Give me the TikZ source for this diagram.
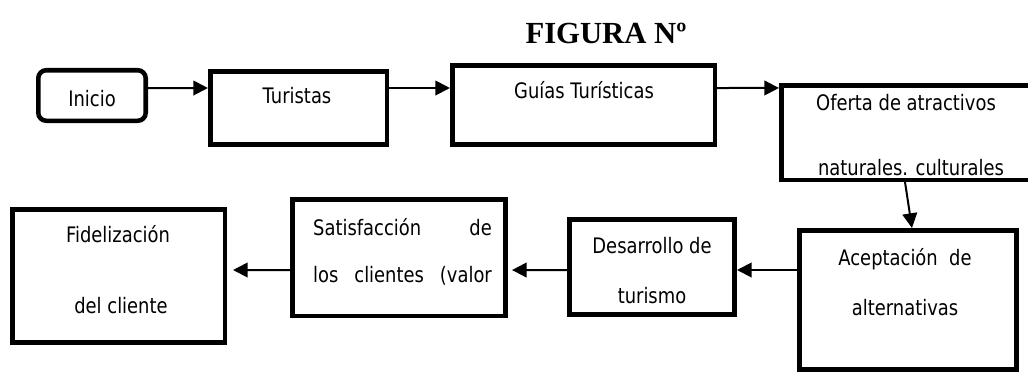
\documentclass[tikz,border=0pt]{standalone}
\usepackage{fontspec}
\setmainfont{DejaVu Sans}[FakeStretch=0.84]
\newfontfamily\titlefont{Liberation Serif}
\usepackage{tikz}
\usetikzlibrary{arrows.meta}

\tikzset{
 caja/.style={draw=black, line width=3.4pt, inner sep=0pt},
 flecha/.style={line width=1.5pt, -{Triangle[length=11pt,width=11pt]}},
 txt/.style={anchor=base, inner sep=0pt, font=\fontsize{16}{19}\selectfont},
}

\begin{document}
\begin{tikzpicture}[x=0.75pt,y=-0.75pt]

 \useasboundingbox (0,0) rectangle (1028,376);

 \node[anchor=base, inner sep=0pt, font=\titlefont\bfseries\fontsize{23}{27}\selectfont] (titulo) at (606,43) {FIGURA Nº};

 % fila de arriba
 \node[caja, rounded corners=6pt, minimum width=80.6pt, minimum height=37.9pt] (inicio) at (92,95.5) {};
 \node[txt] (t-inicio) at (92,106) {Inicio};

 \node[caja, minimum width=132.4pt, minimum height=55.1pt] (turistas) at (298.5,108) {};
 \node[txt] (t-turistas) at (297,103) {Turistas};

 \node[caja, minimum width=196.9pt, minimum height=59.6pt] (guias) at (583.5,105) {};
 \node[txt] (t-guias) at (584,98) {Guías Turísticas};

 \node[caja, minimum width=194pt, minimum height=70.9pt] (oferta) at (910.6,132.5) {};
 \node[txt] (t-oferta1) at (906,110) {Oferta de atractivos};
 \node[txt] (t-oferta2) at (911,175) {naturales. culturales};

 % fila de abajo
 \node[caja, minimum width=163.1pt, minimum height=104.6pt] (aceptacion) at (908,300) {};
 \node[txt] (t-acept1) at (905,265) {Aceptación\ \ de};
 \node[txt] (t-acept2) at (905,315) {alternativas};

 \node[caja, minimum width=124.1pt, minimum height=71.6pt] (desarrollo) at (652,267) {};
 \node[txt] (t-desa1) at (652,253) {Desarrollo de};
 \node[txt] (t-desa2) at (652,303) {turismo};

 \node[caja, minimum width=160.1pt, minimum height=87.4pt] (satisfaccion) at (399,257.5) {};
 \node[txt] (t-satis1) at (402.5,235) {\makebox[134pt][s]{Satisfacción de}};
 \node[txt] (t-satis2) at (402.5,282) {\makebox[134pt][s]{los clientes (valor}};

 \node[caja, minimum width=159.4pt, minimum height=100.1pt] (fidelizacion) at (118.5,276) {};
 \node[txt] (t-fide1) at (118,242) {Fidelización};
 \node[txt] (t-fide2) at (121,313) {del cliente};

 % flechas
 \draw[flecha] ([yshift=5.6pt]inicio.east) -- ([yshift=15pt]turistas.west);
 \draw[flecha] ([yshift=15pt]turistas.east) -- ([yshift=12.75pt]guias.west);
 \draw[flecha] ([yshift=12.75pt]guias.east) -- ([yshift=33.4pt]oferta.west);
 \draw[flecha] ([xshift=-4.2pt]oferta.south) -- ([xshift=3pt]aceptacion.north);
 \draw[flecha] ([yshift=22.5pt]aceptacion.west) -- ([yshift=-2.25pt]desarrollo.east);
 \draw[flecha, shorten >=3pt] ([yshift=-2.25pt]desarrollo.west) -- ([yshift=-9.4pt]satisfaccion.east);
 \draw[flecha, shorten >=4.5pt] ([yshift=-9.4pt]satisfaccion.west) -- ([yshift=4.5pt]fidelizacion.east);

\end{tikzpicture}
\end{document}
